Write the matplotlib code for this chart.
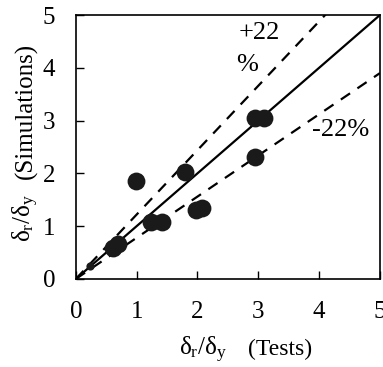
import matplotlib
matplotlib.use("Agg")
import matplotlib.pyplot as plt
import numpy as np

plt.rcParams['font.family'] = ['Liberation Serif', 'DejaVu Serif']
plt.rcParams['mathtext.fontset'] = 'custom'
plt.rcParams['mathtext.rm'] = 'Liberation Serif'
plt.rcParams['mathtext.it'] = 'Liberation Serif'

tests = [0.99, 1.79, 1.23, 1.41, 0.61, 0.69, 1.98, 2.08, 2.94, 3.10, 2.94]
sims = [1.86, 2.03, 1.08, 1.08, 0.59, 0.67, 1.30, 1.34, 3.04, 3.05, 2.31]
small_tests = [0.23]
small_sims = [0.25]
band = 0.22
ticks = [0, 1, 2, 3, 4, 5]

fig = plt.figure(figsize=(3.83, 3.67), dpi=100)
ax = fig.add_axes([0.198, 0.240, 0.794, 0.719])

xl = np.array([0, 5])
ax.plot(xl, xl, color='black', lw=1.6, zorder=2)
ax.plot(xl, xl * (1 + band), color='black', lw=1.6, ls=(0, (5, 4)), zorder=2)
ax.plot(xl, xl * (1 - band), color='black', lw=1.6, ls=(0, (5, 4)), zorder=2)
ax.scatter(tests, sims, s=165, color='#1a1a1a', zorder=3, linewidths=0)
ax.scatter(small_tests, small_sims, s=35, color='#1a1a1a', zorder=3, linewidths=0)

ax.set_xlim(0, 5)
ax.set_ylim(0, 5)
ax.set_xticks(ticks)
ax.set_yticks(ticks)
ax.tick_params(direction='in', length=6, width=1, labelsize=18,
               top=False, right=False)
ax.tick_params(axis='x', pad=16)
ax.tick_params(axis='y', pad=15)
for s in ax.spines.values():
    s.set_linewidth(1.2)

ax.text(3.01, 4.66, '+22', fontsize=19, ha='center', va='center')
ax.text(2.81, 4.05, '%', fontsize=19, ha='center', va='center')
ax.text(3.88, 2.82, '-22%', fontsize=19, ha='left', va='center')

lab_math = r'$\mathrm{δ}_\mathrm{r}/\mathrm{δ}_\mathrm{y}$'
fs = 18
W, H = fig.bbox.width, fig.bbox.height

# x label
fig.text(227 / W, 1 - 355 / H, lab_math, fontsize=fs, ha='right', va='baseline')
fig.text(248 / W, 1 - 355 / H, '(Tests)', fontsize=17, ha='left', va='baseline')

# y label
fig.text(31 / W, 1 - 242 / H, lab_math, fontsize=fs, ha='left', va='baseline',
         rotation=90, rotation_mode='anchor')
fig.text(32 / W, 1 - 179 / H, '(Simulations)', fontsize=18, ha='left',
         va='baseline', rotation=90, rotation_mode='anchor')

fig.savefig('out.png', dpi=100)
